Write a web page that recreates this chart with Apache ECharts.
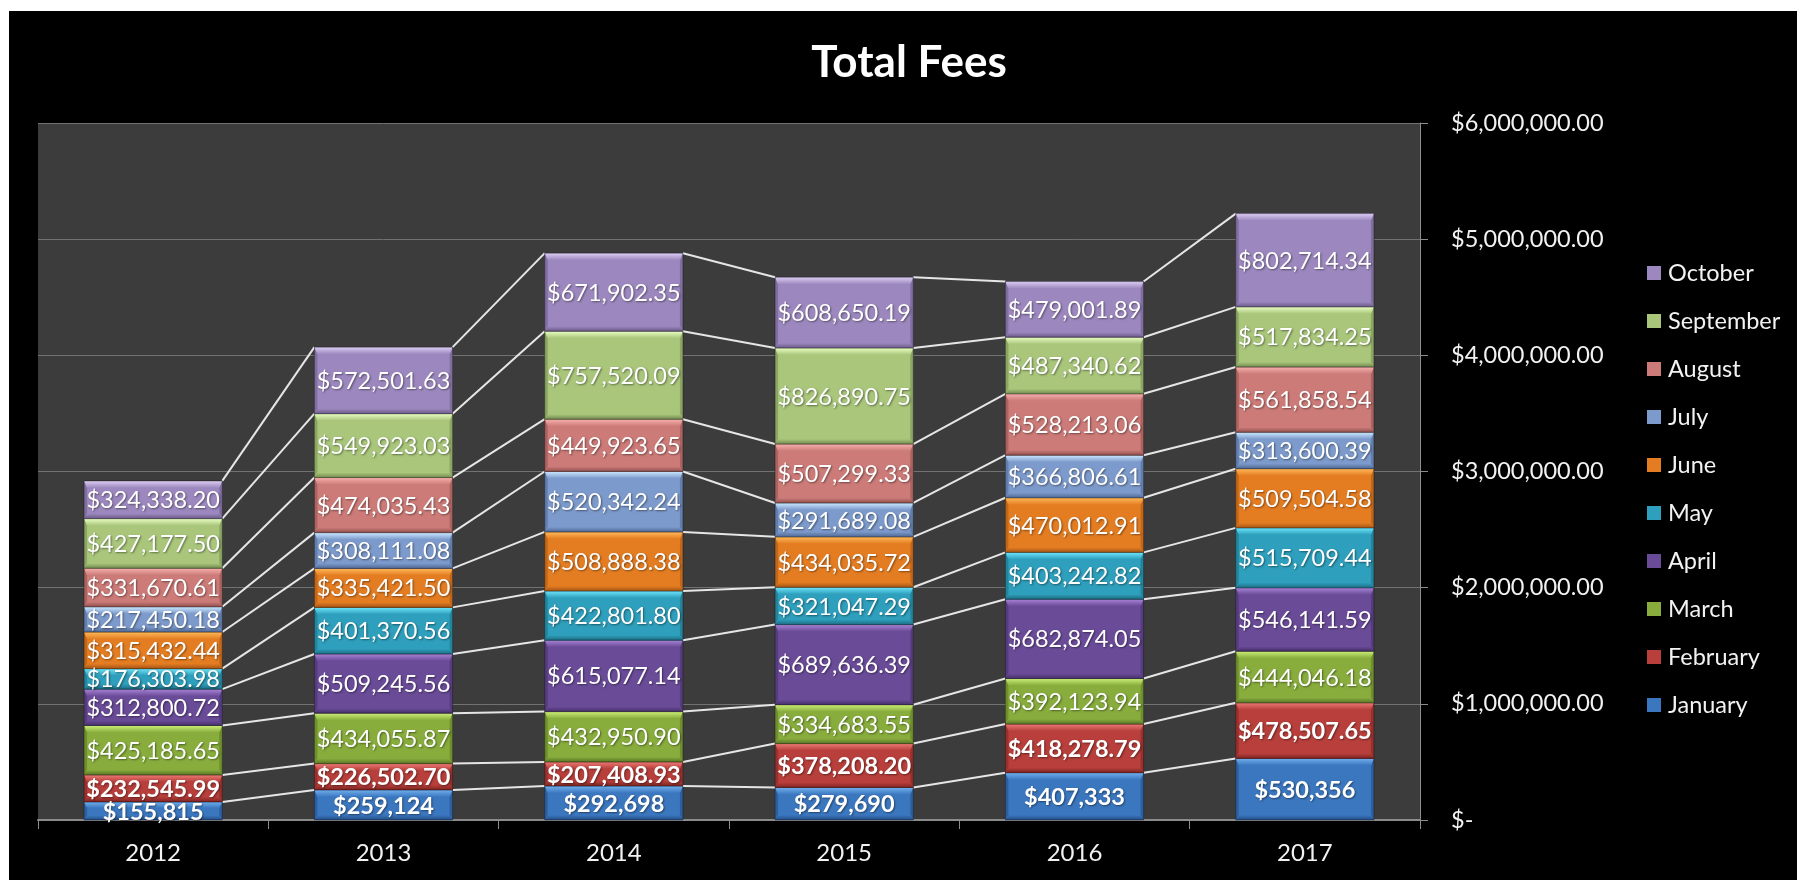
<!DOCTYPE html>
<html>
<head>
<meta charset="utf-8">
<title>Total Fees</title>
<script src="https://cdn.jsdelivr.net/npm/echarts@6/dist/echarts.min.js"></script>
<style>
  html, body { margin: 0; padding: 0; background: #ffffff; }
  #chart { position: absolute; left: 9px; top: 11px; width: 1788px; height: 869px; background: #000000; }
</style>
</head>
<body>
<div id="chart"></div>
<script>
  // categories
  var years = ['2012', '2013', '2014', '2015', '2016', '2017'];
  var months = ['January', 'February', 'March', 'April', 'May', 'June', 'July', 'August', 'September', 'October'];

  // fees per month, one value per year
  var january   = [155815, 259124, 292698, 279690, 407333, 530356];
  var february  = [232545.99, 226502.70, 207408.93, 378208.20, 418278.79, 478507.65];
  var march     = [425185.65, 434055.87, 432950.90, 334683.55, 392123.94, 444046.18];
  var april     = [312800.72, 509245.56, 615077.14, 689636.39, 682874.05, 546141.59];
  var may       = [176303.98, 401370.56, 422801.80, 321047.29, 403242.82, 515709.44];
  var june      = [315432.44, 335421.50, 508888.38, 434035.72, 470012.91, 509504.58];
  var july      = [217450.18, 308111.08, 520342.24, 291689.08, 366806.61, 313600.39];
  var august    = [331670.61, 474035.43, 449923.65, 507299.33, 528213.06, 561858.54];
  var september = [427177.50, 549923.03, 757520.09, 826890.75, 487340.62, 517834.25];
  var october   = [324338.20, 572501.63, 671902.35, 608650.19, 479001.89, 802714.34];

  // y axis ticks
  var yMin = 0, yMax = 6000000, yStep = 1000000;

  var monthValues = [january, february, march, april, may, june, july, august, september, october];

  // face / highlight / shadow colours of the bevelled segments
  var palette = [
    { face: '#3b77bf', light: '#72b0ee', dark: '#234d85' },
    { face: '#b83f3b', light: '#ec7a75', dark: '#7e2422' },
    { face: '#88ad3d', light: '#cdef78', dark: '#5b7625' },
    { face: '#6a4b98', light: '#a983d6', dark: '#46306a' },
    { face: '#2e9fbc', light: '#6ee6fb', dark: '#1d6d82' },
    { face: '#e47d22', light: '#ffba5a', dark: '#a45515' },
    { face: '#7c9acb', light: '#cbe9ff', dark: '#4f6894' },
    { face: '#cc7b78', light: '#f7b1ae', dark: '#90504e' },
    { face: '#a9c67b', light: '#e9ffc3', dark: '#738a50' },
    { face: '#9c88be', light: '#dccdf3', dark: '#6b5a88' }
  ];

  var font = 'Lato, "Open Sans", sans-serif';

  function money(v, dec) {
    return '$' + v.toLocaleString('en-US', { minimumFractionDigits: dec, maximumFractionDigits: dec });
  }

  // stacked bases/tops built from the month arrays
  var bases = [], tops = [];
  for (var k = 0; k < monthValues.length; k++) {
    bases.push([]); tops.push([]);
    for (var i = 0; i < years.length; i++) {
      var b = k === 0 ? 0 : tops[k - 1][i];
      bases[k].push(b);
      tops[k].push(b + monthValues[k][i]);
    }
  }

  function bevelBar(k) {
    var c = palette[k];
    return function (params, api) {
      var i = api.value(0);
      var p0 = api.coord([i, api.value(1)]);
      var p1 = api.coord([i, api.value(2)]);
      var w = api.size([1, 0])[0] * 0.6;
      var x = p0[0] - w / 2, y = p1[1], h = p0[1] - p1[1];
      var bt = Math.min(7, h / 3), bb = Math.min(5, h / 4), s = Math.min(3, h / 5);
      var bold = k < 2;
      return {
        type: 'group',
        children: [
          { type: 'rect', shape: { x: x, y: y, width: w, height: h },
            style: { fill: c.face } },
          { type: 'polygon', shape: { points: [[x, y], [x + s, y + bt], [x + s, y + h - bb], [x, y + h]] },
            style: { fill: c.dark, opacity: 0.55 } },
          { type: 'polygon', shape: { points: [[x + w, y], [x + w - s, y + bt], [x + w - s, y + h - bb], [x + w, y + h]] },
            style: { fill: c.dark, opacity: 0.55 } },
          { type: 'polygon', shape: { points: [[x, y], [x + w, y], [x + w - s, y + bt], [x + s, y + bt]] },
            style: { fill: new echarts.graphic.LinearGradient(0, 0, 0, 1, [
              { offset: 0, color: c.light }, { offset: 1, color: c.face }]) } },
          { type: 'polygon', shape: { points: [[x, y + h], [x + w, y + h], [x + w - s, y + h - bb], [x + s, y + h - bb]] },
            style: { fill: new echarts.graphic.LinearGradient(0, 0, 0, 1, [
              { offset: 0, color: c.face }, { offset: 1, color: c.dark }]) } },
          { type: 'rect', shape: { x: x, y: y, width: w, height: h },
            style: { fill: null, stroke: 'rgba(0,0,0,0.35)', lineWidth: 1 } },
          { type: 'text', z2: 10,
            style: {
              x: x + w / 2, y: y + h / 2 + 1,
              text: money(api.value(3), k === 0 ? 0 : 2),
              fill: '#ffffff', fontSize: 23.5, fontFamily: font,
              fontWeight: bold ? 'bold' : 'normal',
              align: 'center', verticalAlign: 'middle',
              textShadowColor: 'rgba(0,0,0,0.45)', textShadowBlur: 2,
              textShadowOffsetX: 1, textShadowOffsetY: 1
            } }
        ]
      };
    };
  }

  // Excel style series lines joining the segment tops of neighbouring bars
  function seriesLine(params, api) {
    var i = api.value(0);
    var a = api.coord([i, api.value(1)]);
    var b = api.coord([i + 1, api.value(2)]);
    var w = api.size([1, 0])[0] * 0.6;
    return {
      type: 'line',
      shape: { x1: a[0] + w / 2, y1: a[1], x2: b[0] - w / 2, y2: b[1] },
      style: { stroke: '#e6e6e6', lineWidth: 2 }
    };
  }

  var series = [];
  var lineData = [];
  for (var k = 0; k < months.length; k++) {
    var d = [];
    for (var i = 0; i < years.length; i++) {
      d.push([i, bases[k][i], tops[k][i], monthValues[k][i]]);
      if (i < years.length - 1) lineData.push([i, tops[k][i], tops[k][i + 1]]);
    }
    series.push({
      type: 'custom',
      name: months[k],
      renderItem: bevelBar(k),
      encode: { x: 0, y: [1, 2] },
      itemStyle: { color: palette[k].face },
      z: 3,
      data: d
    });
  }
  series.push({
    type: 'custom',
    name: 'series lines',
    renderItem: seriesLine,
    encode: { x: 0, y: [1, 2] },
    silent: true,
    z: 2,
    data: lineData
  });

  var myChart = echarts.init(document.getElementById('chart'));
  var option = {
    backgroundColor: '#000000',
    animation: false,
    title: {
      text: 'Total Fees',
      left: 895,
      top: 25,
      textAlign: 'center',
      textStyle: { color: '#ffffff', fontSize: 44, fontWeight: 'bold', fontFamily: font }
    },
    legend: {
      orient: 'vertical',
      left: 1633,
      top: 245,
      itemGap: 24,
      itemWidth: 14,
      itemHeight: 14,
      icon: 'rect',
      data: months.slice().reverse(),
      textStyle: { color: '#f2f2f2', fontSize: 23.5, fontFamily: font, lineHeight: 24, padding: [0, 0, 0, 2] }
    },
    grid: {
      left: 29,
      top: 112,
      right: 377,
      bottom: 60,
      show: true,
      backgroundColor: '#3c3c3c',
      borderWidth: 0,
      containLabel: false
    },
    xAxis: {
      type: 'category',
      data: years,
      boundaryGap: true,
      axisLine: { lineStyle: { color: '#8c8c8c', width: 2 } },
      axisTick: { show: true, length: 9, lineStyle: { color: '#8c8c8c' } },
      axisLabel: { color: '#f2f2f2', fontSize: 24, fontFamily: font, margin: 21 },
      splitLine: { show: false }
    },
    yAxis: {
      type: 'value',
      position: 'right',
      min: yMin,
      max: yMax,
      interval: yStep,
      axisLine: { show: true, lineStyle: { color: '#8c8c8c', width: 1 } },
      axisTick: { show: true, length: 8, lineStyle: { color: '#8c8c8c' } },
      axisLabel: {
        color: '#f2f2f2', fontSize: 23.5, fontFamily: font, margin: 31,
        formatter: function (v) { return v === 0 ? '$-' : money(v, 2); }
      },
      splitLine: { lineStyle: { color: '#717171', width: 1 } }
    },
    series: series
  };
  myChart.setOption(option);
</script>
</body>
</html>
